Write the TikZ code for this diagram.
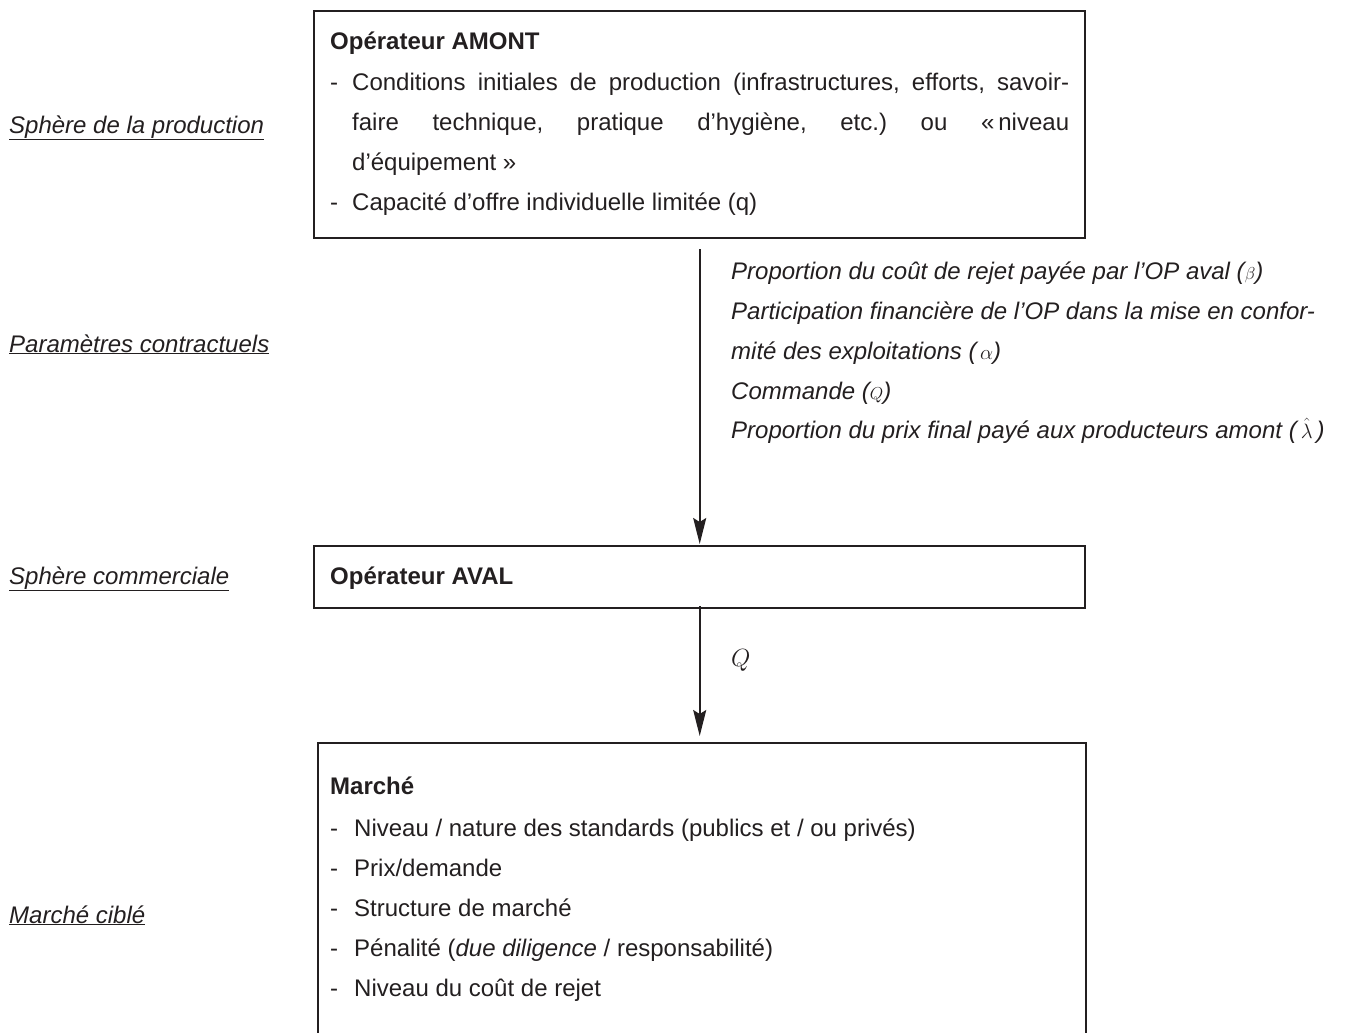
\documentclass[tikz,border=0pt]{standalone}
\usepackage{fontspec}
\setmainfont{Liberation Sans}
\usetikzlibrary{arrows.meta,calc}
\definecolor{ink}{HTML}{231F20}
\begin{document}
\frenchspacing
\begin{tikzpicture}[x=1pt,y=-1pt,
  boxst/.style={draw=ink, line width=2.4pt, rectangle, inner sep=0pt, anchor=north west},
  txt/.style={anchor=base west, inner sep=0pt, text=ink, font=\fontsize{24}{40}\selectfont},
  lab/.style={txt, font=\fontsize{24}{40}\selectfont\itshape},
  arr/.style={draw=ink, line width=1.8pt, -{Stealth[length=26pt,width=13pt,inset=4pt]}}]
\useasboundingbox (0,0) rectangle (1352,1033);
\clip (0,0) rectangle (1352,1033);

% boxes
\node[boxst, minimum width=771pt, minimum height=227pt] (amont) at (313,10) {};
\node[boxst, minimum width=771pt, minimum height=62pt] (aval) at (313,545) {};
\node[boxst, minimum width=768pt, minimum height=320pt] (marche) at (317,742) {};

% left labels
\node[lab] (l1) at (9,133) {\underline{Sphère de la production}};
\node[lab] (l2) at (9,352) {\underline{Paramètres contractuels}};
\node[lab] (l3) at (9,584) {\underline{Sphère commerciale}};
\node[lab] (l4) at (9,923) {\underline{Marché ciblé}};

% AMONT text
\node[txt] (a0) at (330,50) {\bfseries Opérateur AMONT};
\node[txt] (a1) at (330,90) {\makebox[22pt][l]{-}\makebox[717pt][s]{Conditions initiales de production (infrastructures, efforts, savoir-}};
\node[txt] (a2) at (352,130) {\makebox[717pt][s]{faire technique, pratique d’hygiène, etc.) ou «\,niveau}};
\node[txt] (a3) at (352,170) {d’équipement »};
\node[txt] (a4) at (330,210) {\makebox[22pt][l]{-}Capacité d’offre individuelle limitée (q)};

% contract parameters
\node[lab] (p1) at (731,279) {Proportion du coût de rejet payée par l’OP aval ({\fontsize{18}{18}\selectfont$\beta$})};
\node[lab] (p2) at (731,319) {Participation financière de l’OP dans la mise en confor-};
\node[lab] (p3) at (731,359) {mité des exploitations ({\fontsize{22}{22}\selectfont$\,\alpha$})};
\node[lab] (p4) at (731,399) {Commande ({\fontsize{18}{18}\selectfont$Q$})};
\node[lab] (p5) at (731,438) {Proportion du prix final payé aux producteurs amont (\,{\fontsize{22}{22}\selectfont$\hat{\lambda}$}\,)};

% AVAL text
\node[txt] (v0) at (330,584) {\bfseries Opérateur AVAL};

% Q label
\node[txt] (q) at (731,666) {\fontsize{23}{23}\selectfont$Q$};

% Marche text
\node[txt] (m0) at (330,794) {\bfseries Marché};
\node[txt] (m1) at (330,836) {\makebox[24pt][l]{-}Niveau / nature des standards (publics et / ou privés)};
\node[txt] (m2) at (330,876) {\makebox[24pt][l]{-}Prix/demande};
\node[txt] (m3) at (330,916) {\makebox[24pt][l]{-}Structure de marché};
\node[txt] (m4) at (330,956) {\makebox[24pt][l]{-}Pénalité (\textit{due diligence} / responsabilité)};
\node[txt] (m5) at (330,996) {\makebox[24pt][l]{-}Niveau du coût de rejet};

% arrows
\draw[arr] ($(amont.south)+(0,10)$) -- ($(aval.north)+(0,-1)$);
\draw[arr] ($(aval.south)+(0,-3)$) -- ($(aval.south |- marche.north)+(0,-6)$);
\end{tikzpicture}
\end{document}
